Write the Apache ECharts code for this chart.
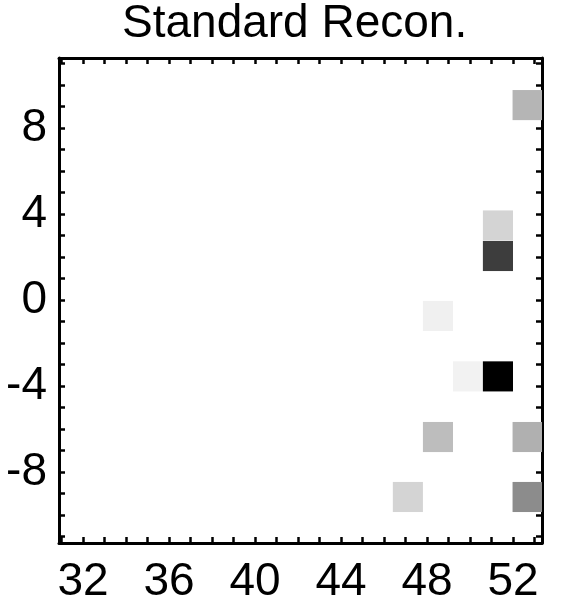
<!DOCTYPE html>
<html>
<head>
<meta charset="utf-8">
<title>Standard Recon.</title>
<script src="https://cdn.jsdelivr.net/npm/echarts@6/dist/echarts.min.js"></script>
<style>
  html, body { margin: 0; padding: 0; background: #fff; }
  #chart { width: 568px; height: 603px; }
</style>
</head>
<body>
<div id="chart"></div>
<script>
// axis ranges and ticks
const xRange = [30.88, 53.35];
const yRange = [-11.3, 11.26];
const xLabels = [32, 36, 40, 44, 48, 52];
const yLabels = [-8, -4, 0, 4, 8];
const xTicks = [31, 32, 33, 34, 35, 36, 37, 38, 39, 40, 41, 42, 43, 44, 45, 46, 47, 48, 49, 50, 51, 52, 53];
const yTicks = [-11, -10, -9, -8, -7, -6, -5, -4, -3, -2, -1, 0, 1, 2, 3, 4, 5, 6, 7, 8, 9, 10, 11];

// non-empty image pixels (centres) and their intensity (0 = white, 1 = black)
const cellX = [52.68, 51.30, 51.30, 48.51, 49.91, 51.30, 48.51, 52.68, 47.11, 52.68];
const cellY = [9.07, 3.47, 2.05, -0.74, -3.55, -3.55, -6.37, -6.37, -9.16, -9.16];
const cellLevel = [0.29, 0.17, 0.76, 0.06, 0.05, 1.0, 0.26, 0.31, 0.17, 0.45];
const cellSize = 1.4;

let font = "'Liberation Sans', Arial, sans-serif";

let chart = echarts.init(document.getElementById('chart'), null, { renderer: 'canvas' });

let tickStyle = (values) => ({
  show: true, inside: true, length: 6, customValues: values,
  lineStyle: { color: '#000', width: 2.5 }
});

let frameAxis = (extra) => Object.assign({
  type: 'value',
  axisLine: { show: true, onZero: false, lineStyle: { color: '#000', width: 3 } },
  splitLine: { show: false },
  minorTick: { show: false }
}, extra);

let renderCell = (params, api) => {
  let x = api.value(0);
  let y = api.value(1);
  let p0 = api.coord([x - cellSize / 2, y + cellSize / 2]);
  let p1 = api.coord([x + cellSize / 2, y - cellSize / 2]);
  let rect = echarts.graphic.clipRectByRect(
    { x: p0[0], y: p0[1], width: p1[0] - p0[0], height: p1[1] - p0[1] },
    params.coordSys
  );
  if (!rect) return;
  return {
    type: 'rect',
    shape: rect,
    style: { fill: api.visual('color') }
  };
};

let option = {
  backgroundColor: '#fff',
  animation: false,
  title: {
    text: 'Standard Recon.',
    left: 122,
    top: 1,
    padding: 0,
    textStyle: { fontFamily: font, fontSize: 46, fontWeight: 'normal', color: '#000' }
  },
  grid: { left: 59, right: 26, top: 58, bottom: 60, containLabel: false, outerBoundsMode: 'none' },
  visualMap: {
    show: false,
    type: 'continuous',
    dimension: 2,
    min: 0,
    max: 1,
    inRange: { color: ['#ffffff', '#000000'] }
  },
  xAxis: [
    frameAxis({
      position: 'bottom',
      min: xRange[0],
      max: xRange[1],
      axisTick: tickStyle(xTicks),
      axisLabel: { customValues: xLabels, margin: 16, color: '#000', fontFamily: font, fontSize: 46 }
    }),
    frameAxis({
      position: 'top',
      min: xRange[0],
      max: xRange[1],
      axisTick: tickStyle(xTicks),
      axisLabel: { show: false }
    })
  ],
  yAxis: [
    frameAxis({
      position: 'left',
      min: yRange[0],
      max: yRange[1],
      axisTick: tickStyle(yTicks),
      axisLabel: { customValues: yLabels, margin: 12, color: '#000', fontFamily: font, fontSize: 46 }
    }),
    frameAxis({
      position: 'right',
      min: yRange[0],
      max: yRange[1],
      axisTick: tickStyle(yTicks),
      axisLabel: { show: false }
    })
  ],
  series: [{
    type: 'custom',
    xAxisIndex: 0,
    yAxisIndex: 0,
    renderItem: renderCell,
    encode: { x: 0, y: 1 },
    data: cellX.map((x, i) => [x, cellY[i], cellLevel[i]])
  }]
};

chart.setOption(option);
</script>
</body>
</html>
